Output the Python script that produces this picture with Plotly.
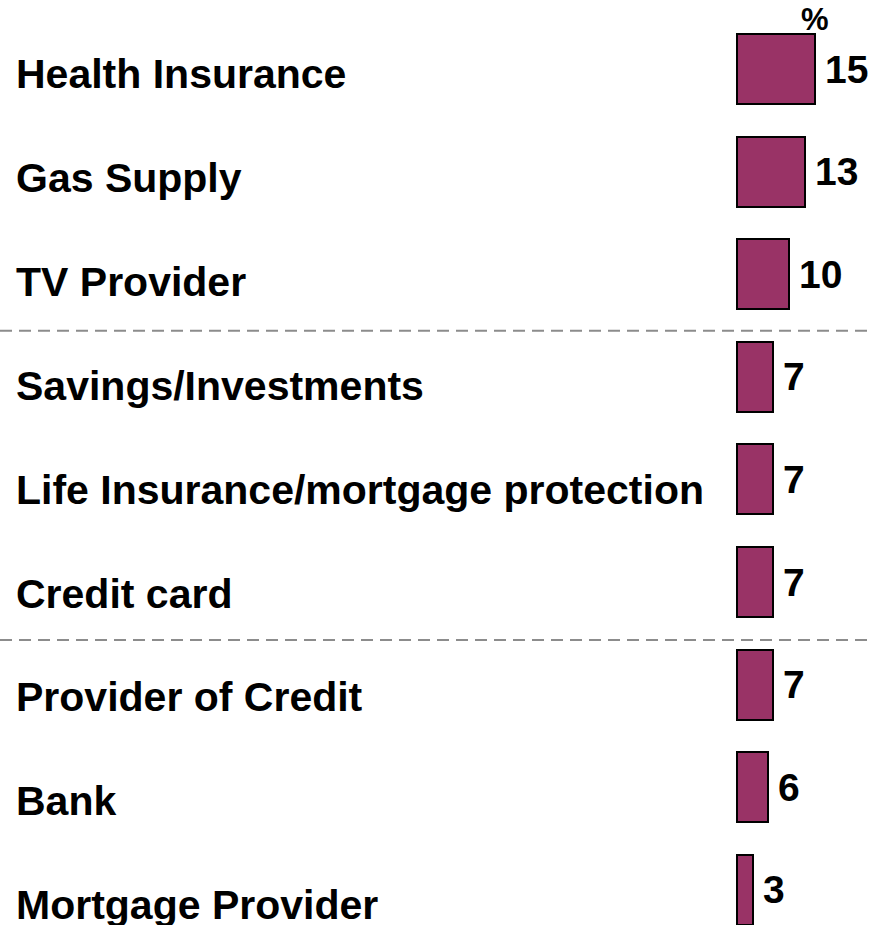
import plotly.graph_objects as go

categories = ["Health Insurance", "Gas Supply", "TV Provider", "Savings/Investments",
              "Life Insurance/mortgage protection", "Credit card", "Provider of Credit",
              "Bank", "Mortgage Provider"]
values = [15, 13, 10, 7, 7, 7, 7, 6, 3]
group_breaks = [2.55, 5.565]

W, H = 874, 925
FONT = "Arial, Liberation Sans, sans-serif"
BAR_COLOR = "#993366"

idx = list(range(len(categories)))

fig = go.Figure()
fig.add_trace(go.Bar(
    x=values, y=idx, orientation="h", width=0.682,
    marker=dict(color=BAR_COLOR, line=dict(color="#000000", width=2)),
    hoverinfo="skip", showlegend=False,
))

annotations = []
for i, (c, v) in enumerate(zip(categories, values)):
    annotations.append(dict(
        x=14 / W, xref="paper", y=i, yref="y", yshift=-(5 + 1.3 * i),
        text=f"<b>{c}</b>", showarrow=False, xanchor="left", yanchor="middle",
        font=dict(family=FONT, size=41, color="black"),
    ))
    annotations.append(dict(
        x=v, xref="x", y=i, yref="y", xshift=8,
        text=f"<b>{v}</b>", showarrow=False, xanchor="left", yanchor="middle",
        font=dict(family=FONT, size=39, color="black"),
    ))
annotations.append(dict(
    x=815 / W, xref="paper", y=1 - 19 / H, yref="paper",
    text="<b>%</b>", showarrow=False, xanchor="center", yanchor="middle",
    font=dict(family=FONT, size=31, color="black"),
))

shapes = []
for b in group_breaks:
    shapes.append(dict(
        type="line", xref="paper", x0=0, x1=1, yref="y", y0=b, y1=b,
        line=dict(color="#8c8c8c", width=2, dash="12px,7px"),
    ))

ppu_x = 5.2
ppu_y = 102.6
fig.update_layout(
    width=W, height=H,
    margin=dict(l=0, r=0, t=0, b=0),
    paper_bgcolor="white", plot_bgcolor="white",
    xaxis=dict(range=[-737 / ppu_x, (W - 737) / ppu_x], visible=False, fixedrange=True),
    yaxis=dict(range=[(H - 69) / ppu_y, -69 / ppu_y], visible=False, fixedrange=True),
    annotations=annotations, shapes=shapes,
    bargap=0,
)

fig.write_html("out.html", config={"displayModeBar": False},
               post_script="document.body.style.margin='0';document.body.style.overflow='hidden';")
